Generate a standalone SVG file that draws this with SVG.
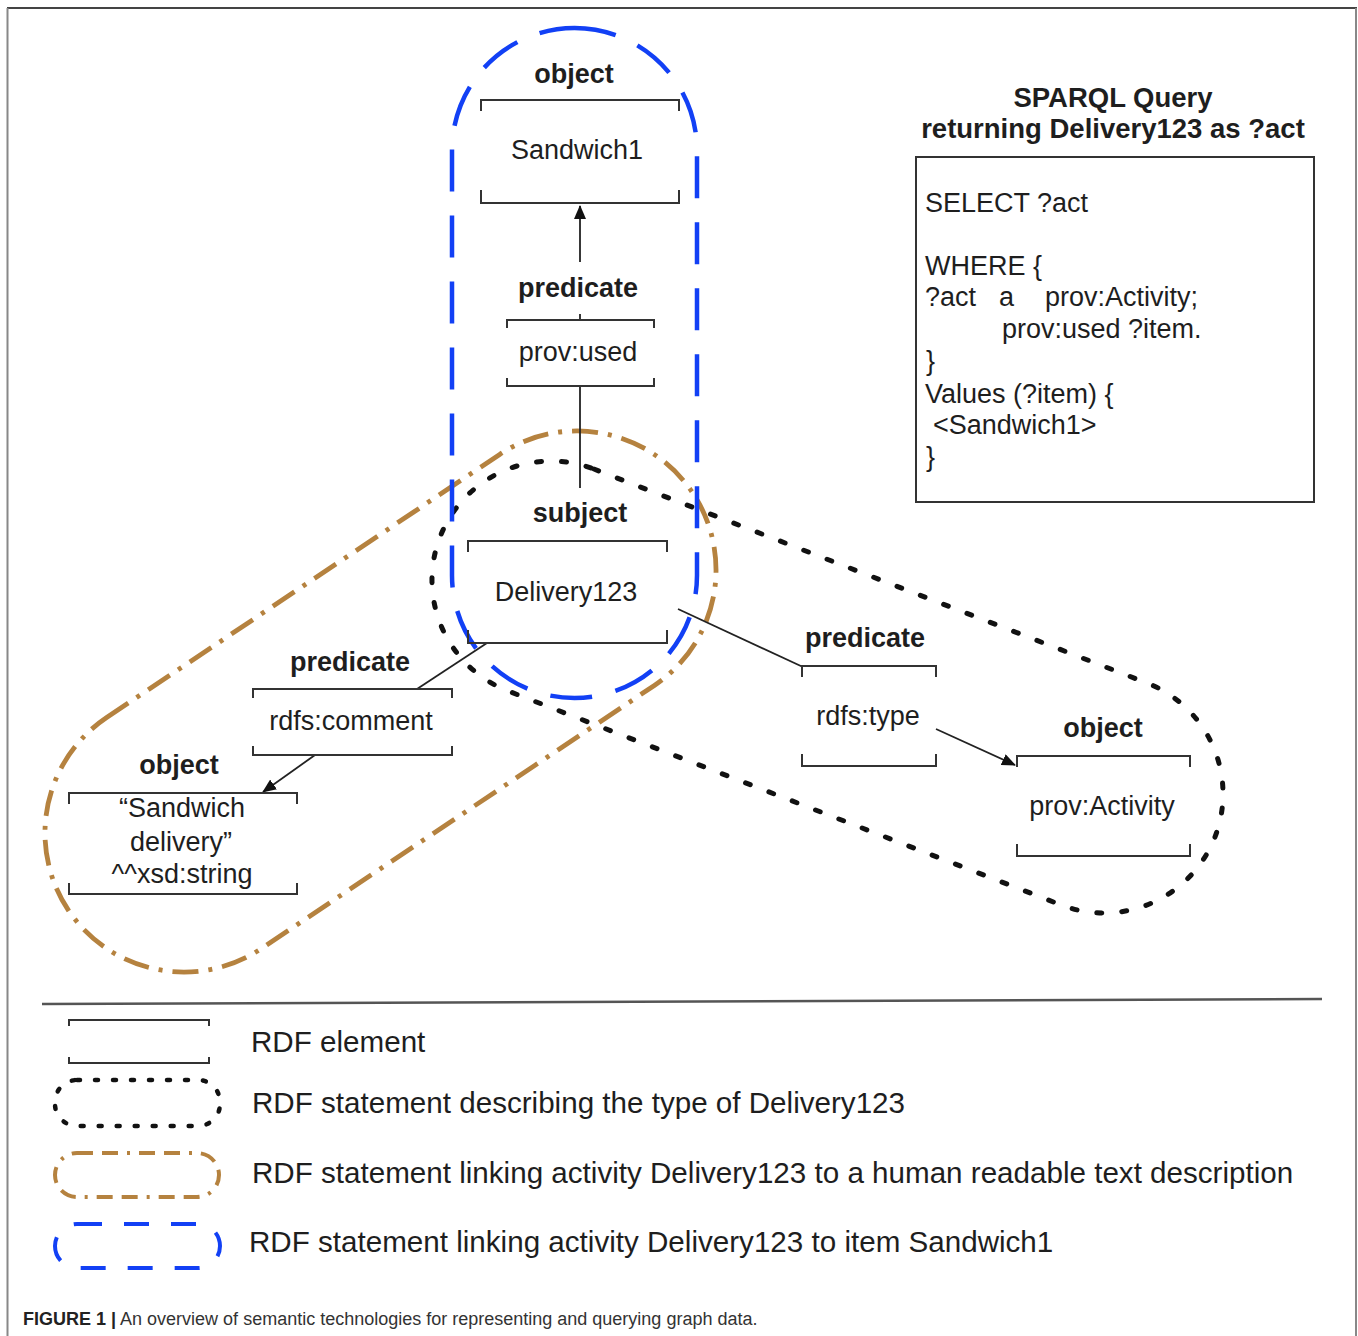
<svg xmlns="http://www.w3.org/2000/svg" width="1358" height="1336" viewBox="0 0 1358 1336">
<style>
text{font-family:"Liberation Sans",Arial,sans-serif;fill:#1e1e1e}
.lbl{font-size:27px;font-weight:bold;text-anchor:middle}
.val{font-size:27px;text-anchor:middle}
.q{font-size:27px}
.qt{font-size:27.5px;font-weight:bold;text-anchor:middle}
.leg{font-size:29.6px}
.cap{font-size:18px;fill:#333}
.br{fill:none;stroke:#333;stroke-width:2}
.con{fill:none;stroke:#222;stroke-width:1.8}
.blue{fill:none;stroke:#1240f5;stroke-width:4.5;stroke-dasharray:42 24}
.brown{fill:none;stroke:#b5823f;stroke-width:4.8;stroke-dasharray:26 10 4 10}
.dots{fill:none;stroke:#111;stroke-width:5;stroke-linecap:round;stroke-dasharray:5 20}
.lblue{fill:none;stroke:#1240f5;stroke-width:4;stroke-dasharray:25 22}
.lbrown{fill:none;stroke:#b5823f;stroke-width:4;stroke-dasharray:16 9 16 9 3 9}
.ldots{fill:none;stroke:#111;stroke-width:4.5;stroke-linecap:round;stroke-dasharray:3 15}
</style>
<defs>
<marker id="arr" markerUnits="userSpaceOnUse" markerWidth="14" markerHeight="12" refX="13" refY="6" orient="auto">
<path d="M0,0 L14,6 L0,12 z" fill="#111"/>
</marker>
</defs>
<rect width="1358" height="1336" fill="#fff"/>
<g id="frame">
<line x1="7" y1="8" x2="1357" y2="8" stroke="#444" stroke-width="2"/>
<line x1="7.5" y1="8" x2="7.5" y2="1336" stroke="#888" stroke-width="2"/>
<line x1="1356" y1="8" x2="1356" y2="1336" stroke="#888" stroke-width="2"/>
</g>
<g id="groupings">
<rect class="dots" x="-415.5" y="-119" width="831" height="238" rx="119" transform="translate(827.5,687) rotate(21.15)"/>
<rect class="brown" x="-375.5" y="-139" width="751" height="278" rx="139" transform="translate(380.5,701.5) rotate(-33.8)"/>
<rect class="blue" x="452" y="28" width="245" height="670" rx="122.5"/>
</g>
<g id="connectors">
<line class="con" x1="580" y1="262" x2="580" y2="206" marker-end="url(#arr)"/>
<line class="con" x1="580" y1="314" x2="580" y2="320"/>
<line class="con" x1="580" y1="386" x2="580" y2="488"/>
<line class="con" x1="678" y1="609" x2="803" y2="667"/>
<line class="con" x1="936" y1="729" x2="1015" y2="765" marker-end="url(#arr)"/>
<line class="con" x1="487" y1="643" x2="417" y2="689"/>
<line class="con" x1="315" y1="755" x2="263" y2="792" marker-end="url(#arr)"/>
</g>
<g id="node-sandwich1">
<text class="lbl" x="574" y="83">object</text>
<path class="br" d="M481,111 V100 H679 V111 M481,190 V203 H679 V190"/>
<text class="val" x="577" y="159">Sandwich1</text>
</g>
<g id="node-prov-used">
<text class="lbl" x="578" y="297">predicate</text>
<path class="br" d="M507,328 V320 H654 V328 M507,378 V386 H654 V378"/>
<text class="val" x="578" y="361">prov:used</text>
</g>
<g id="node-delivery123">
<text class="lbl" x="580" y="522">subject</text>
<path class="br" d="M468,552 V541 H667 V552 M468,630 V643 H667 V630"/>
<text class="val" x="566" y="601">Delivery123</text>
</g>
<g id="node-rdfs-type">
<text class="lbl" x="865" y="647">predicate</text>
<path class="br" d="M802,677 V666 H936 V677 M802,754 V766 H936 V754"/>
<text class="val" x="868" y="725">rdfs:type</text>
</g>
<g id="node-prov-activity">
<text class="lbl" x="1103" y="737">object</text>
<path class="br" d="M1017,767 V756 H1190 V767 M1017,844 V856 H1190 V844"/>
<text class="val" x="1102" y="815">prov:Activity</text>
</g>
<g id="node-rdfs-comment">
<text class="lbl" x="350" y="671">predicate</text>
<path class="br" d="M253,698 V689 H452 V698 M253,746 V755 H452 V746"/>
<text class="val" x="351" y="730">rdfs:comment</text>
</g>
<g id="node-literal">
<text class="lbl" x="179" y="774">object</text>
<path class="br" d="M69,804 V793 H297 V804 M69,883 V894 H297 V883"/>
<text class="val" x="182" y="817">“Sandwich</text>
<text class="val" x="181" y="851">delivery”</text>
<text class="val" x="182" y="883">^^xsd:string</text>
</g>
<g id="sparql-query">
<text class="qt" x="1113" y="107">SPARQL Query</text>
<text class="qt" x="1113" y="138">returning Delivery123 as ?act</text>
<rect x="916" y="157" width="398" height="345" fill="none" stroke="#333" stroke-width="2"/>
<text class="q" x="925" y="212">SELECT ?act</text>
<text class="q" x="925" y="275">WHERE {</text>
<text class="q" x="925" y="306">?act</text>
<text class="q" x="999" y="306">a</text>
<text class="q" x="1045" y="306">prov:Activity;</text>
<text class="q" x="1002" y="338">prov:used ?item.</text>
<text class="q" x="926" y="370">}</text>
<text class="q" x="925" y="403">Values (?item) {</text>
<text class="q" x="933" y="434">&lt;Sandwich1&gt;</text>
<text class="q" x="926" y="466">}</text>
</g>
<g id="legend">
<line x1="42" y1="1004" x2="1322" y2="999" stroke="#555" stroke-width="2.5"/>
<path class="br" d="M69,1026 V1020 H209 V1026 M69,1057 V1063 H209 V1057"/>
<text class="leg" x="251" y="1052">RDF element</text>
<rect class="ldots" x="55" y="1080" width="165" height="46" rx="22"/>
<text class="leg" x="252" y="1113">RDF statement describing the type of Delivery123</text>
<rect class="lbrown" x="55" y="1153" width="164" height="44" rx="22"/>
<text class="leg" x="252" y="1183">RDF statement linking activity Delivery123 to a human readable text description</text>
<rect class="lblue" x="55" y="1224" width="165" height="44" rx="22"/>
<text class="leg" x="249" y="1252">RDF statement linking activity Delivery123 to item Sandwich1</text>
</g>
<g id="caption">
<text class="cap" x="23" y="1325"><tspan font-weight="bold" fill="#222">FIGURE 1 |</tspan> An overview of semantic technologies for representing and querying graph data.</text>
</g>
</svg>
